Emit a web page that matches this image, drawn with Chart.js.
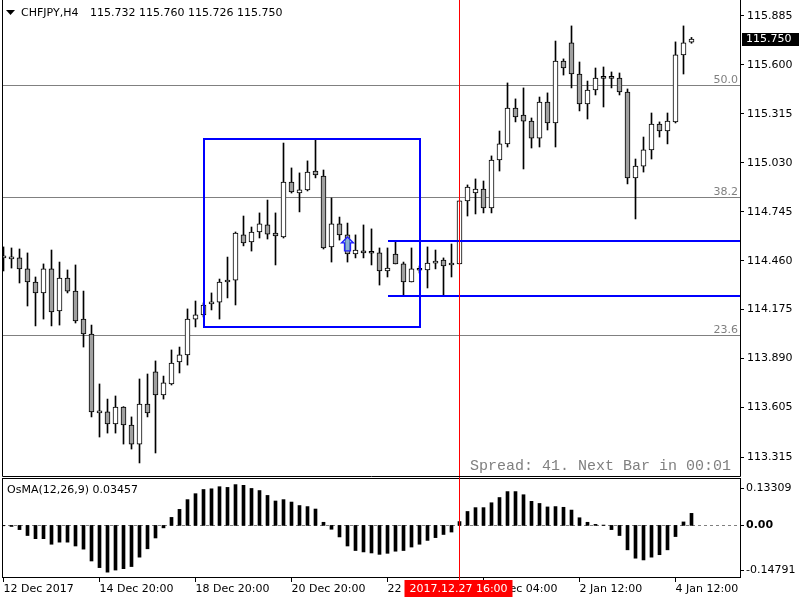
<!DOCTYPE html>
<html>
<head>
<meta charset="utf-8">
<script src="https://cdn.jsdelivr.net/npm/chart.js@4.4.1/dist/chart.umd.min.js"></script>
<style>
    html, body { margin: 0; padding: 0; background: #fff; }
    #wrap { position: relative; width: 800px; height: 600px; }
    #priceChart { position: absolute; left: 0; top: 0; }
    #osmaChart { position: absolute; left: 0; top: 478px; }
</style>
</head>
<body>
<div id="wrap">
    <canvas id="priceChart" width="800" height="478"></canvas>
    <canvas id="osmaChart" width="800" height="122"></canvas>
</div>
<script>
// CHFJPY H4 candles (bar 0 = 12 Dec 20:00)
const opens = [
    114.476, 114.470, 114.476, 114.412, 114.336, 114.272, 114.412, 114.167, 114.359, 114.283,
    114.120, 114.033, 113.573, 113.579, 113.509, 113.608, 113.503, 113.392, 113.625, 113.812,
    113.678, 113.742, 113.870, 113.911, 114.120, 114.144, 114.208, 114.219, 114.336, 114.347,
    114.610, 114.569, 114.627, 114.668, 114.621, 114.598, 114.918, 114.854, 114.872, 114.982,
    114.953, 114.540, 114.674, 114.610, 114.499, 114.516, 114.505, 114.505, 114.400, 114.499,
    114.441, 114.336, 114.406, 114.406, 114.446, 114.464, 114.435, 114.441, 114.808, 114.854,
    114.877, 114.767, 115.046, 115.140, 115.349, 115.308, 115.273, 115.174, 115.384, 115.262,
    115.623, 115.728, 115.547, 115.373, 115.454, 115.524, 115.524, 115.524, 115.442, 114.942,
    115.011, 115.105, 115.256, 115.215, 115.268, 115.658, 115.732
];
const highs = [
    114.540, 114.534, 114.528, 114.505, 114.365, 114.441, 114.522, 114.452, 114.406, 114.435,
    114.283, 114.085, 113.742, 113.654, 113.672, 113.610, 113.550, 113.771, 113.800, 113.876,
    113.788, 113.940, 113.957, 114.179, 114.225, 114.214, 114.272, 114.353, 114.481, 114.627,
    114.720, 114.656, 114.738, 114.813, 114.738, 115.145, 115.000, 114.971, 115.041, 115.169,
    114.988, 114.825, 114.714, 114.679, 114.610, 114.668, 114.645, 114.534, 114.534, 114.569,
    114.452, 114.534, 114.429, 114.540, 114.522, 114.476, 114.557, 114.808, 114.901, 114.936,
    114.924, 115.070, 115.215, 115.495, 115.402, 115.466, 115.291, 115.413, 115.437, 115.739,
    115.635, 115.827, 115.617, 115.506, 115.582, 115.588, 115.559, 115.553, 115.460, 115.052,
    115.180, 115.320, 115.268, 115.320, 115.734, 115.827, 115.760
];
const lows = [
    114.400, 114.417, 114.330, 114.196, 114.080, 114.120, 114.080, 114.085, 114.272, 114.097,
    113.957, 113.550, 113.433, 113.456, 113.456, 113.392, 113.363, 113.282, 113.550, 113.340,
    113.654, 113.736, 113.806, 113.852, 114.074, 114.132, 114.173, 114.120, 114.243, 114.202,
    114.546, 114.516, 114.592, 114.586, 114.435, 114.592, 114.854, 114.744, 114.866, 114.942,
    114.528, 114.452, 114.580, 114.452, 114.476, 114.476, 114.435, 114.318, 114.365, 114.441,
    114.260, 114.336, 114.388, 114.301, 114.412, 114.260, 114.365, 114.441, 114.720, 114.732,
    114.738, 114.738, 114.982, 115.122, 115.268, 114.994, 115.116, 115.122, 115.221, 115.122,
    115.541, 115.466, 115.332, 115.285, 115.425, 115.355, 115.466, 115.425, 114.907, 114.703,
    114.976, 115.052, 115.180, 115.140, 115.262, 115.547, 115.726
];
const closes = [
    114.487, 114.472, 114.412, 114.336, 114.272, 114.412, 114.161, 114.359, 114.283, 114.109,
    114.033, 113.579, 113.585, 113.509, 113.608, 113.503, 113.392, 113.625, 113.573, 113.678,
    113.748, 113.864, 113.911, 114.120, 114.144, 114.202, 114.219, 114.336, 114.347, 114.621,
    114.563, 114.627, 114.674, 114.615, 114.604, 114.918, 114.860, 114.872, 114.976, 114.959,
    114.534, 114.674, 114.610, 114.499, 114.522, 114.505, 114.503, 114.400, 114.417, 114.441,
    114.336, 114.412, 114.404, 114.446, 114.458, 114.429, 114.437, 114.808, 114.889, 114.877,
    114.767, 115.046, 115.140, 115.349, 115.297, 115.273, 115.174, 115.384, 115.262, 115.623,
    115.582, 115.547, 115.373, 115.454, 115.524, 115.522, 115.522, 115.442, 114.942, 115.011,
    115.105, 115.256, 115.215, 115.273, 115.658, 115.728, 115.750
];

// OsMA(12,26,9) histogram
const osma = [
    -0.001, -0.003, -0.012, -0.029, -0.038, -0.038, -0.054, -0.048, -0.048, -0.059,
    -0.068, -0.102, -0.121, -0.134, -0.128, -0.124, -0.118, -0.091, -0.067, -0.036,
    -0.007, 0.023, 0.046, 0.074, 0.091, 0.103, 0.105, 0.111, 0.109, 0.117,
    0.115, 0.106, 0.100, 0.086, 0.070, 0.074, 0.067, 0.057, 0.054, 0.047,
    0.009, -0.011, -0.033, -0.059, -0.072, -0.076, -0.079, -0.083, -0.080, -0.074,
    -0.072, -0.062, -0.054, -0.043, -0.035, -0.026, -0.019, 0.011, 0.040, 0.051,
    0.051, 0.065, 0.080, 0.097, 0.097, 0.088, 0.069, 0.063, 0.053, 0.054,
    0.052, 0.044, 0.022, 0.009, 0.003, 0.001, -0.012, -0.029, -0.070, -0.094,
    -0.099, -0.091, -0.084, -0.070, -0.032, 0.010, 0.03457
];

// axis ticks
const timeTickBars = [0, 12, 24, 36, 48, 60, 72, 84];
const timeTickLabels = ["12 Dec 2017", "14 Dec 20:00", "18 Dec 20:00", "20 Dec 20:00",
    "22 Dec 20:00", "28 Dec 04:00", "2 Jan 12:00", "4 Jan 12:00"];
const priceTicks = [115.885, 115.600, 115.315, 115.030, 114.745, 114.460, 114.175, 113.890, 113.605, 113.315];
const osmaTickValues = [0.13309, 0.00, -0.14791];
const osmaTickLabels = ["0.13309", "0.00", "-0.14791"];

// fibo levels and drawn objects
const fibLabels = ["50.0", "38.2", "23.6"];
const fibPrices = [115.483, 114.831, 114.027];
const boxBars = [25, 52];
const boxPrices = [115.166, 114.076];
const rangeStartBar = 48;
const rangePrices = [114.575, 114.254];
const arrowBar = 43;
const arrowPrice = 114.598;
const crossBar = 57;
const crossTime = "2017.12.27 16:00";

const symbolText = "CHFJPY,H4";
const osmaText = "OsMA(12,26,9) 0.03457";
const spreadText = "Spread: 41. Next Bar in 00:01";

const FONT = '"DejaVu Sans", sans-serif';
Chart.defaults.font.family = FONT;
Chart.defaults.font.size = 11;
Chart.defaults.color = "#000";

const barIdx = opens.map((_, i) => i);
const bodyFill = barIdx.map(i => closes[i] >= opens[i] ? "#ffffff" : "#a0a0a0");
const xMin = -0.1875, xMax = 92.0625;

// chart.js reserves room for the outer tick labels; MT4 does not
function noPadding(s) {
    s.paddingLeft = 0;
    s.paddingRight = 0;
    s.paddingTop = 0;
    s.paddingBottom = 0;
}

const mainOverlay = {
    id: "mainOverlay",
    beforeDatasetsDraw(chart) {
        const { ctx, chartArea: a, scales: { y } } = chart;
        ctx.save();
        ctx.strokeStyle = "#808080";
        ctx.fillStyle = "#808080";
        ctx.lineWidth = 1;
        ctx.font = "11px " + FONT;
        ctx.textAlign = "right";
        ctx.textBaseline = "bottom";
        fibPrices.forEach((p, i) => {
            const py = Math.round(y.getPixelForValue(p)) + 0.5;
            ctx.beginPath();
            ctx.moveTo(a.left, py);
            ctx.lineTo(a.right, py);
            ctx.stroke();
            ctx.fillText(fibLabels[i], a.right - 2, py);
        });
        ctx.restore();
    },
    afterDraw(chart) {
        const { ctx, chartArea: a, scales: { x, y } } = chart;
        ctx.save();

        // blue rectangle + range lines
        ctx.strokeStyle = "#0000ff";
        ctx.lineWidth = 2;
        const bx1 = Math.round(x.getPixelForValue(boxBars[0]));
        const bx2 = Math.round(x.getPixelForValue(boxBars[1]));
        const by1 = Math.round(y.getPixelForValue(boxPrices[0]));
        const by2 = Math.round(y.getPixelForValue(boxPrices[1]));
        ctx.strokeRect(bx1, by1, bx2 - bx1, by2 - by1);
        const rx = Math.round(x.getPixelForValue(rangeStartBar));
        rangePrices.forEach(p => {
            const py = Math.round(y.getPixelForValue(p));
            ctx.beginPath();
            ctx.moveTo(rx, py);
            ctx.lineTo(a.right, py);
            ctx.stroke();
        });

        // up arrow
        const ax = x.getPixelForValue(arrowBar);
        const ay = y.getPixelForValue(arrowPrice);
        ctx.beginPath();
        ctx.moveTo(ax, ay);
        ctx.lineTo(ax + 6, ay + 6);
        ctx.lineTo(ax + 3, ay + 6);
        ctx.lineTo(ax + 3, ay + 14);
        ctx.lineTo(ax - 3, ay + 14);
        ctx.lineTo(ax - 3, ay + 6);
        ctx.lineTo(ax - 6, ay + 6);
        ctx.closePath();
        ctx.fillStyle = "rgba(120,190,255,0.55)";
        ctx.fill();
        ctx.lineWidth = 1.3;
        ctx.strokeStyle = "#2020ff";
        ctx.stroke();

        // crosshair
        const cx = Math.floor(x.getPixelForValue(crossBar)) + 0.5;
        ctx.strokeStyle = "#ff0000";
        ctx.lineWidth = 1;
        ctx.beginPath();
        ctx.moveTo(cx, a.top);
        ctx.lineTo(cx, chart.height);
        ctx.stroke();

        // frame
        ctx.strokeStyle = "#000";
        ctx.beginPath();
        ctx.moveTo(a.left + 0.5, 0);
        ctx.lineTo(a.left + 0.5, a.bottom + 0.5);
        ctx.lineTo(a.right + 0.5, a.bottom + 0.5);
        ctx.lineTo(a.right + 0.5, 0);
        ctx.stroke();

        // header
        ctx.fillStyle = "#000";
        ctx.beginPath();
        ctx.moveTo(6, 10);
        ctx.lineTo(15, 10);
        ctx.lineTo(10.5, 15);
        ctx.closePath();
        ctx.fill();
        ctx.font = "11px " + FONT;
        ctx.textAlign = "left";
        ctx.textBaseline = "middle";
        const last = opens.length - 1;
        const ohlc = [opens[last], highs[last], lows[last], closes[last]].map(v => v.toFixed(3)).join(" ");
        ctx.fillText(symbolText, 21, 13);
        ctx.fillText(ohlc, 90, 13);

        // spread / timer text
        ctx.font = '15px "Liberation Mono", monospace';
        ctx.fillStyle = "#808080";
        ctx.textAlign = "right";
        ctx.fillText(spreadText, a.right - 9, 466);

        // current price tag
        const py = Math.round(y.getPixelForValue(closes[last]));
        ctx.fillStyle = "#000";
        ctx.fillRect(a.right + 2, py - 6, 57, 13);
        ctx.fillStyle = "#fff";
        ctx.font = "11px " + FONT;
        ctx.textAlign = "left";
        ctx.fillText(closes[last].toFixed(3), a.right + 6, py + 0.5);
        ctx.restore();
    }
};

new Chart(document.getElementById("priceChart"), {
    type: "bar",
    data: {
        datasets: [{
            label: "body",
            data: barIdx.map(i => ({ x: i, y: [opens[i], closes[i]] })),
            backgroundColor: bodyFill,
            borderColor: "#000",
            borderWidth: 1,
            borderSkipped: false,
            barThickness: 5,
            minBarLength: 2,
            order: 0
        }, {
            label: "wick",
            data: barIdx.map(i => ({ x: i, y: [lows[i], highs[i]] })),
            backgroundColor: "#000",
            barThickness: 1,
            order: 1
        }]
    },
    options: {
        responsive: false,
        animation: false,
        layout: { padding: { left: 2, top: 0, right: 0, bottom: 2 } },
        datasets: { bar: { grouped: false } },
        plugins: { legend: { display: false }, tooltip: { enabled: false } },
        scales: {
            x: { type: "linear", min: xMin, max: xMax, offset: false, display: false, afterFit: noPadding },
            y: {
                position: "right",
                min: 113.206,
                max: 115.978,
                afterBuildTicks: s => { s.ticks = priceTicks.map(v => ({ value: v })); },
                afterFit: s => { s.width = 60; noPadding(s); },
                grid: { drawOnChartArea: false, color: "#000", tickLength: 4 },
                border: { display: false },
                ticks: { padding: 3, color: "#000", callback: v => v.toFixed(3) }
            }
        }
    },
    plugins: [mainOverlay]
});

const osmaOverlay = {
    id: "osmaOverlay",
    beforeDatasetsDraw(chart) {
        const { ctx, chartArea: a, scales: { y } } = chart;
        const y0 = Math.round(y.getPixelForValue(0)) + 0.5;
        ctx.save();
        ctx.strokeStyle = "#808080";
        ctx.setLineDash([3, 3]);
        ctx.beginPath();
        ctx.moveTo(a.left, y0);
        ctx.lineTo(a.right, y0);
        ctx.stroke();
        ctx.restore();
    },
    afterDraw(chart) {
        const { ctx, chartArea: a, scales: { x, y } } = chart;
        ctx.save();
        // frame
        ctx.strokeStyle = "#000";
        ctx.lineWidth = 1;
        ctx.strokeRect(a.left + 0.5, 0.5, a.right - a.left, a.bottom);

        // indicator name
        ctx.fillStyle = "#000";
        ctx.font = "11px " + FONT;
        ctx.textAlign = "left";
        ctx.textBaseline = "middle";
        ctx.fillText(osmaText, 7, 12);

        // right scale labels (top/bottom ones sit inside the pane like MT4)
        const shift = [9, 0, -7];
        osmaTickValues.forEach((v, i) => {
            const ty = Math.round(y.getPixelForValue(v)) + shift[i];
            ctx.beginPath();
            ctx.moveTo(a.right + 1, ty + 0.5);
            ctx.lineTo(a.right + 4, ty + 0.5);
            ctx.stroke();
            ctx.font = (v === 0 ? "bold " : "") + "11px " + FONT;
            ctx.fillText(osmaTickLabels[i], a.right + 6, ty + 0.5);
        });

        // crosshair + time tag
        const cx = Math.floor(x.getPixelForValue(crossBar)) + 0.5;
        ctx.strokeStyle = "#ff0000";
        ctx.beginPath();
        ctx.moveTo(cx, 0);
        ctx.lineTo(cx, 102);
        ctx.stroke();
        ctx.fillStyle = "#ff0000";
        ctx.fillRect(cx - 55, 102, 108, 17);
        ctx.fillStyle = "#fff";
        ctx.font = "11px " + FONT;
        ctx.textAlign = "center";
        ctx.fillText(crossTime, cx - 1, 111);
        ctx.restore();
    }
};

new Chart(document.getElementById("osmaChart"), {
    type: "bar",
    data: {
        datasets: [{
            label: "OsMA",
            data: barIdx.map(i => ({ x: i, y: osma[i] })),
            backgroundColor: "#000",
            barThickness: 3
        }]
    },
    options: {
        responsive: false,
        animation: false,
        layout: { padding: { left: 2, top: 1, right: 0, bottom: 0 } },
        plugins: { legend: { display: false }, tooltip: { enabled: false } },
        scales: {
            x: {
                type: "linear",
                min: xMin,
                max: xMax,
                offset: false,
                afterBuildTicks: s => { s.ticks = timeTickBars.map(v => ({ value: v })); },
                afterFit: s => { s.height = 23; noPadding(s); },
                grid: { drawOnChartArea: false, offset: false, color: "#000", tickLength: 5 },
                border: { display: false },
                ticks: {
                    align: "start",
                    maxRotation: 0,
                    autoSkip: false,
                    padding: 1,
                    color: "#000",
                    callback: (v, i) => timeTickLabels[i]
                }
            },
            y: {
                position: "right",
                min: -0.14791,
                max: 0.13309,
                afterFit: s => { s.width = 60; noPadding(s); },
                grid: { display: false },
                border: { display: false },
                ticks: { display: false }
            }
        }
    },
    plugins: [osmaOverlay]
});
</script>
</body>
</html>
